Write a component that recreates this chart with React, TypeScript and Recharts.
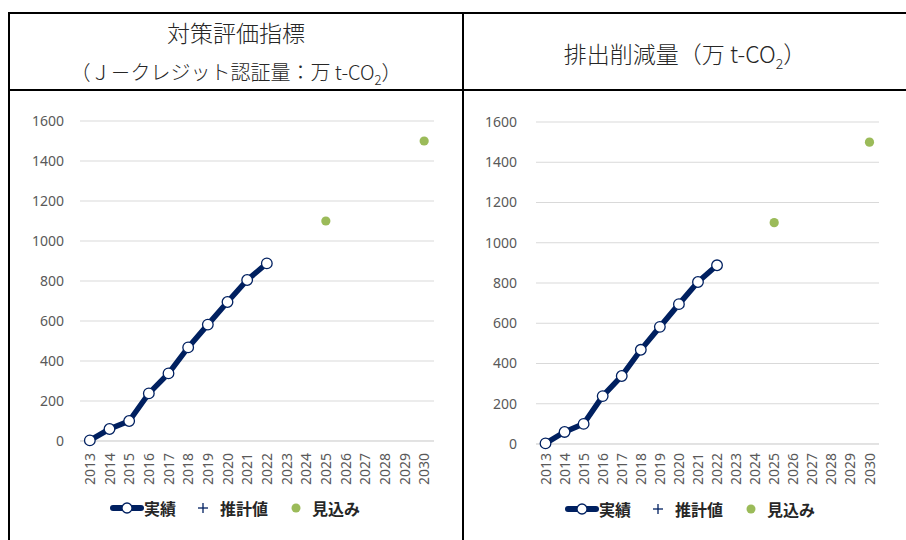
import React from 'react';
import { LineChart, Line, XAxis, YAxis, CartesianGrid, Legend } from 'recharts';

const years = ['2013', '2014', '2015', '2016', '2017', '2018', '2019', '2020', '2021', '2022', '2023', '2024', '2025', '2026', '2027', '2028', '2029', '2030'];
const actual: (number | null)[] = [3, 60, 100, 238, 338, 468, 582, 695, 805, 888, null, null, null, null, null, null, null, null];
const estimate: (number | null)[] = [null, null, null, null, null, null, null, null, null, null, null, null, null, null, null, null, null, null];
const forecast: (number | null)[] = [null, null, null, null, null, null, null, null, null, null, null, null, 1100, null, null, null, null, 1500];
const yTicks = [0, 200, 400, 600, 800, 1000, 1200, 1400, 1600];
const seriesNames = { actual: '実績', estimate: '推計値', forecast: '見込み' };

const rows = years.map((y, i) => ({ year: y, actual: actual[i], estimate: estimate[i], forecast: forecast[i] }));

const NAVY = '#002060';
const GREEN = '#9BBB59';
const AXIS_TEXT = '#595959';
const FONT = '"Noto Sans", "Noto Sans CJK JP", sans-serif';
const JP = '"Noto Sans CJK JP", "Noto Sans", sans-serif';

const RotTick = (props: any) => {
  const { x, y, payload } = props;
  return (
    <text x={x} y={y} transform={`rotate(-90, ${x}, ${y})`} textAnchor="end" dy="0.36em" fontSize={14} fill={AXIS_TEXT} fontFamily={FONT}>
      {payload.value}
    </text>
  );
};

const LegendIcon = ({ k }: { k: string }) => {
  if (k === 'actual') {
    return (
      <svg width={34} height={14} style={{ display: 'block' }}>
        <line x1={3} y1={7} x2={31} y2={7} stroke={NAVY} strokeWidth={6} strokeLinecap="round" />
        <circle cx={17} cy={7} r={5} fill="#fff" stroke={NAVY} strokeWidth={1.3} />
      </svg>
    );
  }
  if (k === 'estimate') {
    return (
      <svg width={12} height={14} style={{ display: 'block', marginRight: 11 }}>
        <line x1={1} y1={7} x2={11} y2={7} stroke={NAVY} strokeWidth={1.3} />
        <line x1={6} y1={2} x2={6} y2={12} stroke={NAVY} strokeWidth={1.3} />
      </svg>
    );
  }
  return (
    <svg width={12} height={14} style={{ display: 'block', marginRight: 10 }}>
      <circle cx={6} cy={7} r={4.5} fill={GREEN} />
    </svg>
  );
};

const renderLegend = (props: any) => {
  const { payload } = props;
  const gaps = [21, 22, 0];
  return (
    <div style={{ display: 'flex', alignItems: 'center', fontFamily: JP, fontSize: 16, fontWeight: 700, color: '#262626', height: 22, whiteSpace: 'nowrap' }}>
      {(payload || []).map((entry: any, i: number) => (
        <div key={i} style={{ display: 'flex', alignItems: 'center', marginRight: gaps[i] }}>
          <LegendIcon k={entry.dataKey} />
          <span>{entry.value}</span>
        </div>
      ))}
    </div>
  );
};

type ChartProps = {
  width: number;
  height: number;
  margin: { top: number; right: number; left: number; bottom: number };
  pad: number;
  yTickMargin: number;
  xTickMargin: number;
  legendLeft: number;
  legendTop: number;
};

const Chart = ({ width, height, margin, pad, yTickMargin, xTickMargin, legendLeft, legendTop }: ChartProps) => (
  <LineChart width={width} height={height} data={rows} margin={margin}>
    <CartesianGrid vertical={false} stroke="#d9d9d9" strokeWidth={1} />
    <XAxis
      dataKey="year"
      scale="point"
      padding={{ left: pad, right: pad }}
      axisLine={{ stroke: '#d9d9d9' }}
      tickLine={false}
      tickMargin={xTickMargin}
      height={45}
      interval={0}
      tick={<RotTick />}
    />
    <YAxis
      domain={[0, 1600]}
      ticks={yTicks}
      axisLine={false}
      tickLine={false}
      width={60}
      tickMargin={yTickMargin}
      tick={{ fontSize: 14, fill: AXIS_TEXT, fontFamily: FONT }}
      interval={0}
    />
    <Legend
      verticalAlign="middle"
      align="center"
      content={renderLegend}
      wrapperStyle={{ left: legendLeft, top: legendTop, width: 'auto' }}
    />
    <Line
      dataKey="actual"
      name={seriesNames.actual}
      stroke={NAVY}
      strokeWidth={5.5}
      dot={{ r: 5.3, fill: '#fff', stroke: NAVY, strokeWidth: 1.3 }}
      activeDot={false}
      isAnimationActive={false}
    />
    <Line
      dataKey="estimate"
      name={seriesNames.estimate}
      stroke={NAVY}
      strokeWidth={0}
      dot={false}
      activeDot={false}
      isAnimationActive={false}
    />
    <Line
      dataKey="forecast"
      name={seriesNames.forecast}
      stroke="none"
      strokeWidth={0}
      dot={{ r: 4.6, fill: GREEN, stroke: 'none' }}
      activeDot={false}
      isAnimationActive={false}
    />
  </LineChart>
);

const line = (style: React.CSSProperties) => <div style={{ position: 'absolute', background: '#000', ...style }} />;

export default function App() {
  return (
    <div style={{ position: 'fixed', left: 0, top: 0, width: 906, height: 540, background: '#fff', overflow: 'hidden' }}>
      {line({ left: 8, top: 12, width: 898, height: 2 })}
      {line({ left: 8, top: 89, width: 898, height: 2 })}
      {line({ left: 8, top: 12, width: 2, height: 528 })}
      {line({ left: 462, top: 12, width: 2, height: 528 })}

      <div style={{ position: 'absolute', left: 10, width: 452, top: 17, textAlign: 'center', fontFamily: JP, fontSize: 23, lineHeight: '30px', color: '#262626', fontWeight: 300 }}>
        対策評価指標
      </div>
      <div style={{ position: 'absolute', left: 10, width: 452, top: 59, textAlign: 'center', fontFamily: JP, fontSize: 20, lineHeight: '26px', color: '#262626', fontWeight: 300 }}>
        （Ｊ－クレジット認証量：万 t-CO<sub style={{ fontSize: 13, lineHeight: 0 }}>2</sub>）
      </div>
      <div style={{ position: 'absolute', left: 464, width: 442, top: 38, textAlign: 'center', fontFamily: JP, fontSize: 23, lineHeight: '30px', color: '#262626', fontWeight: 300 }}>
        排出削減量（万 t-CO<sub style={{ fontSize: 14, lineHeight: 0 }}>2</sub>）
      </div>

      <div style={{ position: 'absolute', left: 10, top: 91 }}>
        <Chart
          width={452}
          height={449}
          margin={{ top: 30, right: 28, left: 10, bottom: 54 }}
          pad={9.83}
          yTickMargin={10}
          xTickMargin={6}
          legendLeft={100}
          legendTop={406}
        />
      </div>
      <div style={{ position: 'absolute', left: 464, top: 91 }}>
        <Chart
          width={442}
          height={449}
          margin={{ top: 31, right: 27, left: 12, bottom: 51 }}
          pad={9.52}
          yTickMargin={13}
          xTickMargin={3}
          legendLeft={101}
          legendTop={407}
        />
      </div>
    </div>
  );
}
